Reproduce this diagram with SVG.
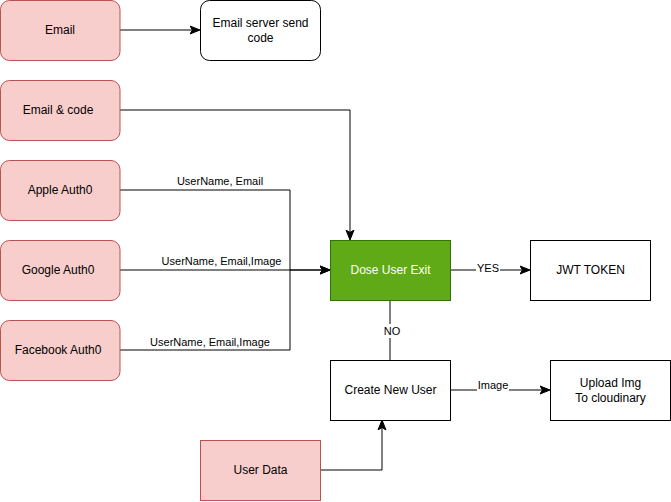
<svg xmlns="http://www.w3.org/2000/svg" width="671" height="502" viewBox="0 0 671 502">
<style>
.pink{fill:#f8cecc;stroke:#b85450;stroke-width:1}
.white{fill:#ffffff;stroke:#000000;stroke-width:1}
.green{fill:#60a917;stroke:#2d7600;stroke-width:1}
text{font-family:"Liberation Sans",Arial,Helvetica,sans-serif;font-size:12px;fill:#000;text-anchor:middle;dominant-baseline:central}
.lbl{font-size:11px}
.wt{fill:#ffffff}
.edge{fill:none;stroke:#000;stroke-width:1}
.bg{fill:#ffffff;stroke:none}
</style>
<defs>
<marker id="arr" viewBox="0 0 10 10" refX="9" refY="5" markerWidth="10" markerHeight="10" markerUnits="userSpaceOnUse" orient="auto">
<path d="M0,1 L10,5 L0,9 L2.5,5 z" fill="#000" stroke="#000" stroke-width="1"/>
</marker>
</defs>
<rect width="671" height="502" fill="#ffffff"/>
<g id="connectors">
<path class="edge" d="M120,30 L199,30" marker-end="url(#arr)"/>
<path class="edge" d="M120,110 L350,110 L350,239" marker-end="url(#arr)"/>
<path class="edge" d="M120,190 L290,190 L290,270 L329,270" marker-end="url(#arr)"/>
<path class="edge" d="M120,270 L329,270" marker-end="url(#arr)"/>
<path class="edge" d="M120,350 L290,350 L290,270"/>
<path class="edge" d="M450,270 L529,270" marker-end="url(#arr)"/>
<path class="edge" d="M390,300 L390,360"/>
<path class="edge" d="M450,390 L549,390" marker-end="url(#arr)"/>
<path class="edge" d="M320,470 L382,470 L382,421" marker-end="url(#arr)"/>
<rect class="bg" x="175" y="174" width="90" height="14"/>
<text class="lbl" x="220" y="181">UserName, Email</text>
<rect class="bg" x="160" y="254" width="124" height="14"/>
<text class="lbl" x="221.5" y="261">UserName, Email,Image</text>
<rect class="bg" x="149" y="334" width="122" height="14"/>
<text class="lbl" x="210" y="341.5">UserName, Email,Image</text>
<rect class="bg" x="476" y="261" width="24" height="13"/>
<text class="lbl" x="488" y="268">YES</text>
<rect class="bg" x="381" y="324" width="18" height="14"/>
<text class="lbl" x="392" y="331">NO</text>
<rect class="bg" x="477" y="378" width="32" height="14"/>
<text class="lbl" x="493" y="385">Image</text>
</g>
<g id="email">
<rect class="pink" x="0.5" y="0.5" width="119.5" height="60" rx="9" ry="9"/>
<text x="60" y="30">Email</text>
</g>
<g id="email-server">
<rect class="white" x="200.5" y="0.5" width="120" height="60" rx="9" ry="9"/>
<text x="260.5" y="23">Email server send</text>
<text x="260.5" y="38">code</text>
</g>
<g id="email-code">
<rect class="pink" x="0.5" y="80.5" width="119.5" height="60" rx="9" ry="9"/>
<text x="58" y="110">Email &amp; code</text>
</g>
<g id="apple">
<rect class="pink" x="0.5" y="160.5" width="119.5" height="60" rx="9" ry="9"/>
<text x="60" y="190">Apple Auth0</text>
</g>
<g id="google">
<rect class="pink" x="0.5" y="240.5" width="119.5" height="60" rx="9" ry="9"/>
<text x="58" y="270">Google Auth0</text>
</g>
<g id="facebook">
<rect class="pink" x="0.5" y="320.5" width="119.5" height="60" rx="9" ry="9"/>
<text x="58" y="350">Facebook Auth0</text>
</g>
<g id="dose-user-exit">
<rect class="green" x="330.5" y="240.5" width="120" height="60"/>
<text class="wt" x="390.5" y="270">Dose User Exit</text>
</g>
<g id="jwt-token">
<rect class="white" x="530.5" y="240.5" width="120" height="60"/>
<text x="590.5" y="270">JWT TOKEN</text>
</g>
<g id="create-new-user">
<rect class="white" x="330.5" y="360.5" width="120" height="60"/>
<text x="390.5" y="390">Create New User</text>
</g>
<g id="upload-img">
<rect class="white" x="550.5" y="360.5" width="120" height="60"/>
<text x="610.5" y="383">Upload Img</text>
<text x="610.5" y="398">To cloudinary</text>
</g>
<g id="user-data">
<rect class="pink" x="200.5" y="440.5" width="120" height="60"/>
<text x="260.5" y="470">User Data</text>
</g>
</svg>
